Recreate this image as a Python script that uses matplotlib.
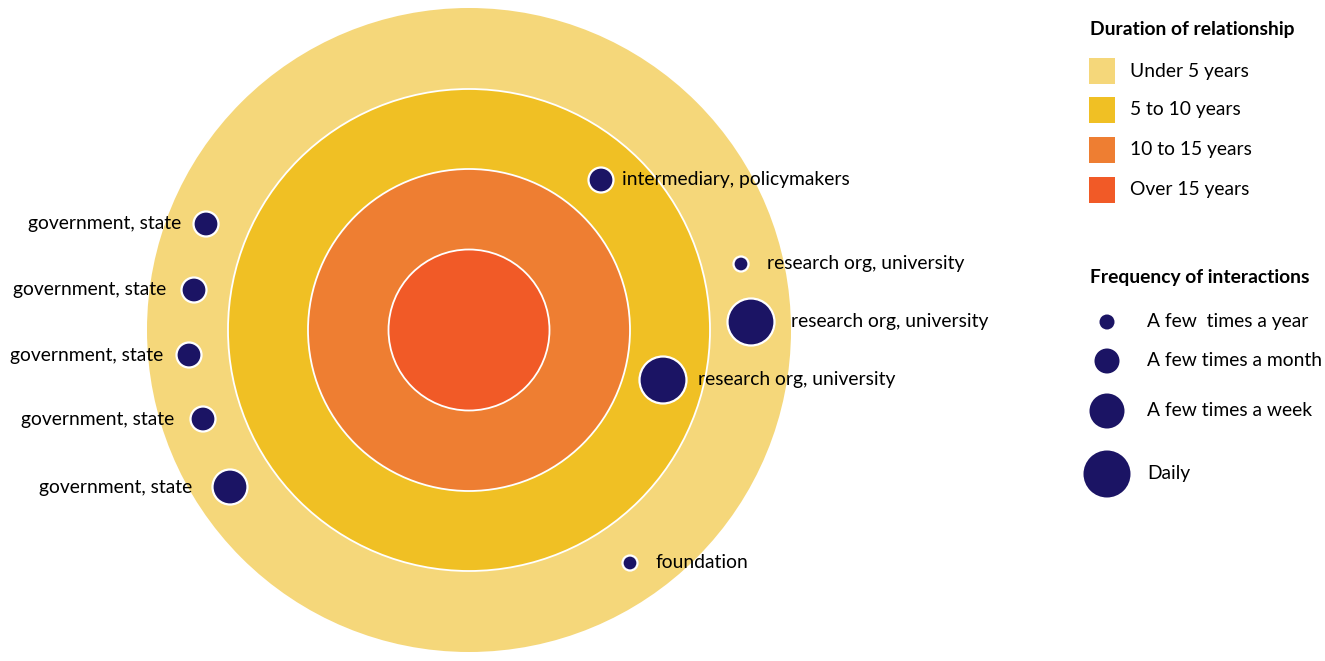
import matplotlib.pyplot as plt
from matplotlib.patches import Circle, Rectangle

plt.rcParams['font.family'] = ['Lato', 'DejaVu Sans']

# rings (duration), outer to inner
durations = ['Under 5 years', '5 to 10 years', '10 to 15 years', 'Over 15 years']
ring_colors = ['#F5D77A', '#F0C024', '#EE7E32', '#F15A27']
ring_radius = [322, 241, 161, 80.5]
centre = (469, 330)

# frequency categories and dot radius
frequencies = ['A few  times a year', 'A few times a month', 'A few times a week', 'Daily']
freq_radius = [7.5, 12.5, 17.5, 23.5]

# partners: label, dot x, dot y, frequency index, label x, side
labels = ['government, state', 'government, state', 'government, state',
          'government, state', 'government, state',
          'intermediary, policymakers', 'research org, university',
          'research org, university', 'research org, university', 'foundation']
dot_x = [206, 194, 189, 203, 230, 601, 741, 751, 663, 630]
dot_y = [224, 290, 355, 419, 487, 180, 264, 322, 380, 563]
dot_freq = [1, 1, 1, 1, 2, 1, 0, 3, 3, 0]
label_x = [181, 166, 163, 174, 192, 622, 767, 791, 698, 656]
label_side = ['left'] * 5 + ['right'] * 5

navy = '#1B1464'
fs = 13.9

fig = plt.figure(figsize=(13.25, 6.61), dpi=100)
ax = fig.add_axes([0, 0, 1, 1])
ax.set_xlim(0, 1325)
ax.set_ylim(661, 0)
ax.axis('off')

for i, (r, c) in enumerate(zip(ring_radius, ring_colors)):
    ec = 'none' if i == 0 else 'white'
    ax.add_patch(Circle(centre, r, facecolor=c, edgecolor=ec, lw=1.3, zorder=1 + i))

for lab, x, y, f, lx, side in zip(labels, dot_x, dot_y, dot_freq, label_x, label_side):
    ax.add_patch(Circle((x, y), freq_radius[f], facecolor=navy, edgecolor='white',
                        lw=1.6, zorder=10))
    ha = 'right' if side == 'left' else 'left'
    ax.text(lx, y, lab, ha=ha, va='center', fontsize=fs, color='black', zorder=11)

# duration legend
ax.text(1090, 30, 'Duration of relationship', fontsize=fs, fontweight='bold',
        va='center', ha='left')
sq_y = [58, 97, 137, 177]
for name, c, y in zip(durations, ring_colors, sq_y):
    ax.add_patch(Rectangle((1089, y), 26, 26, facecolor=c, edgecolor='none'))
    ax.text(1130, y + 13, name, fontsize=fs, va='center', ha='left')

# frequency legend
ax.text(1090, 278, 'Frequency of interactions', fontsize=fs, fontweight='bold',
        va='center', ha='left')
leg_y = [322, 361, 411, 474]
for name, r, y in zip(frequencies, freq_radius, leg_y):
    ax.add_patch(Circle((1107, y), r, facecolor=navy, edgecolor='none'))
    ax.text(1147, y, name, fontsize=fs, va='center', ha='left')

fig.savefig('out.png', dpi=100)
